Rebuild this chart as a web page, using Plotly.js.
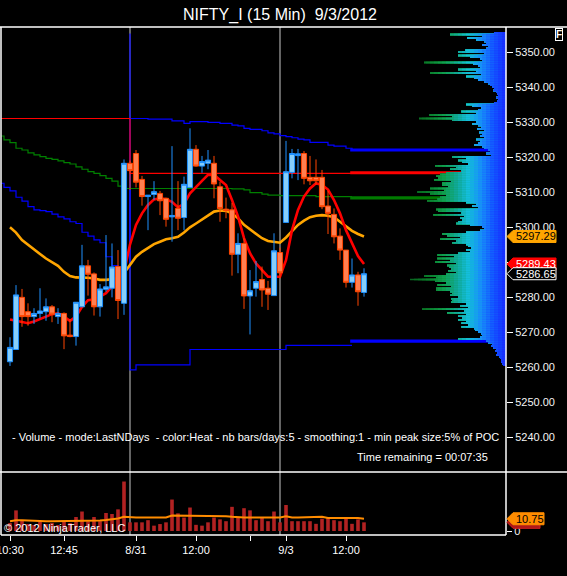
<!DOCTYPE html>
<html><head><meta charset="utf-8">
<script src="https://cdn.plot.ly/plotly-3.0.1.min.js"></script>
<style>html,body{margin:0;padding:0;background:#000;}#chart{width:567px;height:576px;}</style>
</head><body><div id="chart"></div>
<script>
// ---------- DATA ----------
const openP  = [5261.5,5265.0,5279.9,5275.8,5274.4,5275.3,5275.8,5277.2,5274.4,5275.3,5269.1,5268.7,5277.2,5288.9,5286.6,5277.2,5282.2,5282.5,5288.7,5278.2,
                5318.2,5321.0,5313.6,5308.7,5309.3,5309.6,5308.2,5302.9,5305.3,5302.7,5311.3,5322.2,5317.4,5318.2,5318.2,5311.5,5305.1,5304.9,5292.2,5295.3,
                5280.3,5282.5,5285.0,5282.5,5280.4,5292.7,5301.3,5315.6,5320.4,5321.0,5314.2,5314.2,5314.2,5306.0,5303.6,5297.4,5293.4,5284.2,5286.3,5281.3];
const highP  = [5268.5,5283.4,5282.3,5278.2,5276.8,5282.5,5279.6,5277.7,5276.8,5275.6,5273.7,5278.5,5294.9,5290.6,5287.0,5283.7,5297.7,5295.3,5293.4,5319.3,
                5319.0,5322.0,5314.6,5309.1,5313.1,5310.3,5308.4,5323.1,5313.1,5314.4,5328.2,5323.4,5320.3,5322.0,5320.3,5312.9,5308.4,5306.9,5298.2,5296.8,
                5287.7,5290.3,5288.7,5284.6,5298.2,5294.1,5324.6,5322.3,5322.3,5321.7,5320.3,5319.3,5316.3,5310.3,5305.3,5299.6,5293.4,5291.0,5287.2,5288.2];
const lowP   = [5260.3,5265.0,5271.5,5271.8,5272.3,5273.9,5273.2,5272.8,5272.3,5265.1,5268.5,5266.1,5277.2,5280.4,5274.7,5274.4,5281.5,5279.9,5273.7,5274.9,
                5310.6,5311.3,5306.1,5299.1,5307.7,5303.4,5300.1,5295.8,5299.1,5299.1,5311.3,5317.2,5315.5,5316.5,5308.2,5301.5,5302.5,5286.1,5286.8,5276.6,
                5269.3,5280.1,5277.2,5276.3,5280.4,5285.3,5301.3,5313.9,5313.4,5312.2,5312.0,5312.0,5305.1,5298.0,5295.3,5290.6,5282.7,5282.7,5277.5,5280.1];
const closeP = [5265.6,5280.6,5274.4,5274.4,5275.3,5276.0,5277.2,5275.1,5275.3,5268.9,5268.7,5278.5,5288.9,5286.5,5277.2,5282.3,5282.9,5288.6,5279.0,5318.2,
                5316.1,5312.8,5308.7,5309.1,5310.1,5307.5,5302.2,5303.3,5302.5,5312.2,5322.2,5317.4,5318.7,5319.1,5312.3,5305.3,5304.7,5292.2,5295.3,5280.3,
                5281.8,5284.4,5282.0,5280.8,5293.2,5286.9,5315.8,5321.0,5320.9,5313.9,5313.2,5313.2,5305.8,5303.9,5297.2,5293.4,5284.2,5286.3,5281.5,5286.65];
const fastMA = [5273.6,5273.3,5273.0,5272.5,5273.0,5273.6,5274.4,5275.1,5275.3,5274.4,5273.2,5274.4,5277.2,5279.1,5279.3,5280.1,5281.1,5283.0,5284.9,5287.0,
                5295.0,5300.6,5303.9,5306.3,5307.9,5308.2,5307.9,5307.2,5305.6,5306.6,5309.6,5311.5,5313.2,5314.9,5314.9,5313.4,5312.0,5307.7,5303.0,5296.8,
                5292.5,5289.6,5287.7,5285.8,5285.8,5285.8,5290.5,5299.1,5304.9,5308.7,5311.0,5312.5,5312.0,5310.7,5307.7,5303.9,5299.1,5295.3,5291.7,5289.43];
const slowMA = [5299.9,5298.4,5296.3,5294.9,5293.6,5292.3,5291.0,5289.9,5288.9,5287.2,5286.0,5285.6,5285.6,5285.5,5285.3,5284.9,5284.9,5285.0,5285.3,5286.8,
                5289.1,5291.5,5292.9,5294.1,5295.1,5295.8,5296.5,5296.8,5297.2,5298.4,5299.9,5301.0,5302.2,5303.4,5304.4,5304.7,5304.6,5303.9,5302.5,5300.6,
                5299.3,5298.2,5296.8,5296.0,5295.8,5295.5,5297.0,5298.7,5300.6,5301.8,5302.8,5303.2,5303.4,5303.2,5302.8,5301.5,5300.1,5298.9,5298.0,5297.29];
const volume = [7.0,18.1,8.8,6.1,5.3,7.9,6.1,7.0,5.3,8.8,7.0,12.3,17.1,8.6,12.3,8.6,15.8,14.9,19.0,43.4,
                7.6,7.6,7.6,9.5,4.7,6.1,7.6,27.6,15.5,11.8,20.6,5.4,4.7,7.6,11.8,10.2,8.6,21.2,12.4,20.0,
                18.1,9.5,11.8,8.6,17.1,7.6,22.8,8.6,8.6,8.6,8.6,6.3,10.8,11.8,9.5,8.6,10.8,6.3,10.2,7.6];
const volumeMA = [8.6,9.5,9.5,9.2,8.6,8.6,8.6,8.6,8.6,8.6,8.6,8.8,8.8,8.8,8.8,9.2,9.6,10.2,11.0,12.4,
                  11.8,11.8,11.8,11.8,11.8,11.8,11.8,13.6,13.6,13.6,13.6,13.6,13.6,13.6,13.6,13.6,13.0,12.4,11.8,11.8,
                  11.8,11.8,11.8,11.8,11.8,11.8,13.0,11.8,11.8,11.8,11.8,11.8,12.4,11.5,11.5,11.5,11.5,11.5,11.5,10.75];

// step indicator lines, first value belongs to bar -2
const stepFirstBar = -2;
const upperBand = [5312.5,5311.3,5310.3,5308.5,5307.4,5305.8,5304.9,5304.7,5304.4,5303.7,5302.9,5302.3,5301.5,5301.0,5298.5,5297.4,5296.3,5295.5,5291.5,5289.0,5288.5,5288.0,
                   5331.0,5331.0,5331.0,5330.8,5330.8,5330.8,5330.8,5330.3,5330.3,5329.6,5330.1,5330.1,5330.1,5329.9,5329.9,5329.6,5329.6,5329.1,5328.9,5328.2,
                   5327.9,5327.9,5327.5,5326.9,5326.6,5326.1,5325.8,5325.5,5325.1,5324.9,5324.2,5324.2,5324.2,5323.4,5323.1,5323.1,5322.5,5322.0];
const midLine   = [5326.0,5324.9,5324.1,5322.5,5322.0,5321.2,5320.6,5320.1,5319.6,5319.3,5318.9,5318.4,5318.0,5317.2,5316.5,5315.8,5315.3,5314.7,5313.9,5313.1,5311.7,5311.0,
                   5311.0,5311.0,5311.0,5311.0,5311.0,5311.0,5311.0,5311.0,5311.0,5311.0,5311.0,5311.0,5311.0,5311.0,5311.0,5311.0,5311.0,5310.9,5310.9,5310.6,
                   5309.8,5309.8,5309.4,5309.1,5309.1,5308.95,5308.95,5308.95,5308.95,5308.95,5308.95,5308.7,5308.7,5308.7,5308.7,5308.7,5308.7,5308.7];
const refLine   = [5331.0,5331.0,5331.0,5331.0,5331.0,5331.0,5331.0,5331.0,5331.0,5331.0,5331.0,5331.0,5331.0,5331.0,5331.0,5331.0,5331.0,5331.0,5331.0,5331.0,5331.0,5331.0,
                   5315.3,5315.3,5315.3,5315.3,5315.3,5315.3,5315.3,5315.3,5315.3,5315.3,5315.3,5315.3,5315.3,5315.3,5315.3,5315.3,5315.3,5315.3,5315.3,5315.3,
                   5315.3,5315.3,5315.3,5315.3,5315.3,5315.3,5315.3,5315.3,5315.3,5315.3,5315.3,5315.3,5315.3,5315.3,5315.3,5315.3,5315.3,5315.3];
const lowerBand = [null,null,null,null,null,null,null,null,null,null,null,null,null,null,null,null,null,null,null,null,null,null,
                   5355.3,5259.2,5260.6,5260.6,5260.6,5260.6,5260.6,5260.6,5260.6,5260.6,5260.6,5265.0,5265.0,5265.0,5265.0,5265.0,5265.0,5265.0,5265.0,
                   5265.0,5265.0,5265.0,5265.0,5265.0,5265.0,5265.0,5265.0,5266.2,5266.2,5266.2,5266.2,5266.2,5266.2,5266.2,5266.2,5266.2,5266.2,5266.2];
// projected levels (thick) starting near bar 56.7
const levelStartBar = 56.7;
const levelValues = [5322.0, 5315.5, 5308.3, 5267.4];
const levelColors = ['#0000ff', '#ff0000', '#007a00', '#0000ff'];

// volume profile (length in px from right edge), rows from top price downward
const profileTop = 5355.5, profileStep = 0.5;
const profileLen = [12,56,24,39,30,22,20,24,18,20, 41,48,22,48,36,26,24,82,33,28,
                    26,48,30,76,25,40,32,28,22,18, 16,14,12,13,10,9,8,10,8,9,
                    12,40,34,25,28,45,30,77,54,87, 54,30,34,28,25,29,22,27,24,26,
                    22,30,26,28,32,24,22,18,16,20, 15,54,40,48,44,38,71,50,56,45,
                    60,66,70,68,72,55,64,64,58,76, 62,89,76,60,66,69,79,40,30,34,
                    28,70,68,45,73,42,46,44,48,50, 36,24,22,26,40,64,59,46,66,50,
                    54,40,38,35,40,36,48,69,52,69, 56,71,50,59,57,55,58,50,60,82,
                    70,96,71,60,69,55,70,70,56,54, 56,48,55,54,55,40,46,38,84,42,
                    59,40,48,44,48,40,45,38,45,32, 31,28,25,24,26,48,20,18,14,15,
                    13,10,11,9,10,7,6,5,5,4, 3];

const sessionStartBars = [20, 45];
const tickBars = [0, 9, 21, 31, 40, 46, 56];
const tickLabels = ['10:30', '12:45', '8/31', '12:00', '', '9/3', '12:00'];
const priceTicks = [5240, 5250, 5260, 5270, 5280, 5290, 5300, 5310, 5320, 5330, 5340, 5350];

// ---------- GEOMETRY ----------
const FONT = 'Liberation Sans, Arial, sans-serif';
const ML = 1, MR = 61, MT = 27, MB = 41;
const plotW = 567 - ML - MR, plotH = 576 - MT - MB;
const pxPerPt = 3.5;
const yMainRange = [5230, 5350 + (52 - 27) / pxPerPt];
const mainDom = [(535 - 472) / plotH, 1];
const volDom = [0, (535 - 473) / plotH];
const volPxPerUnit = 1.14;
const volRange = [-(535 - 531) / volPxPerUnit, (531 - 473) / volPxPerUnit];
const xRange = [-1.5, (506 - 10) / 6];
const px2paperX = p => (p - ML) / plotW;

const idx = closeP.map((_, i) => i);
const stepX = upperBand.map((_, k) => stepFirstBar + k);

const traces = [];
// step lines
traces.push({type:'scatter', mode:'lines', x: stepX, y: upperBand, line:{color:'#0000ff', width:1.2, shape:'hv'}, hoverinfo:'skip'});
traces.push({type:'scatter', mode:'lines', x: stepX, y: lowerBand, line:{color:'#0000ff', width:1.2, shape:'vh'}, hoverinfo:'skip'});
traces.push({type:'scatter', mode:'lines', x: stepX, y: midLine, line:{color:'#008000', width:1.2, shape:'hv'}, hoverinfo:'skip'});
traces.push({type:'scatter', mode:'lines', x: stepX, y: refLine, line:{color:'#ff0000', width:1.2, shape:'hv'}, hoverinfo:'skip'});
levelValues.forEach((v, k) => traces.push({type:'scatter', mode:'lines', x:[levelStartBar, xRange[1]], y:[v, v], line:{color: levelColors[k], width:3.2}, hoverinfo:'skip'}));
// moving averages
traces.push({type:'scatter', mode:'lines', x: idx, y: slowMA, line:{color:'#ffa500', width:2.6}, hoverinfo:'skip'});
traces.push({type:'scatter', mode:'lines', x: idx, y: fastMA, line:{color:'#ff0000', width:2.6}, hoverinfo:'skip'});
// candles on overlay axis (above lines)
traces.push({type:'candlestick', x: idx, open: openP, high: highP, low: lowP, close: closeP, xaxis:'x3', yaxis:'y',
  increasing:{line:{color:'#1e90ff', width:1}, fillcolor:'#87cefa'},
  decreasing:{line:{color:'#ff4500', width:1}, fillcolor:'#ff7f50'},
  whiskerwidth:0, hoverinfo:'skip'});
// volume profile: heat gradient by distance from the right edge
const profPrices = profileLen.map((_, k) => profileTop - k * profileStep);
const heatStops = [[0,[24,40,255]],[14,[20,84,255]],[26,[24,140,250]],[38,[20,190,220]],[50,[16,168,150]],[62,[16,160,80]],[80,[10,122,40]],[100,[8,95,28]]];
function heatColor(d) {
  for (let k = 1; k < heatStops.length; k++) {
    if (d <= heatStops[k][0]) {
      const [d0, c0] = heatStops[k - 1], [d1, c1] = heatStops[k];
      const t = (d - d0) / (d1 - d0);
      return 'rgb(' + c0.map((c, j) => Math.round(c + (c1[j] - c) * t)).join(',') + ')';
    }
  }
  return 'rgb(' + heatStops[heatStops.length - 1][1].join(',') + ')';
}
const bandStep = 4;
const maxLen = Math.max(...profileLen);
for (let cap = Math.ceil(maxLen / bandStep) * bandStep; cap > 0; cap -= bandStep) {
  traces.push({type:'bar', orientation:'h', xaxis:'x2', yaxis:'y', y: profPrices,
    x: profileLen.map(v => Math.min(v, cap)), width: 0.4,
    marker:{color: heatColor(cap - bandStep / 2), line:{width:0}}, hoverinfo:'skip'});
}
// volume panel
traces.push({type:'bar', x: idx, y: volume, xaxis:'x', yaxis:'y2', width:0.6, marker:{color:'#b22222', line:{width:0}}, hoverinfo:'skip'});
traces.push({type:'scatter', mode:'lines', x: idx, y: volumeMA, xaxis:'x', yaxis:'y2', line:{color:'#ff8c00', width:2}, hoverinfo:'skip'});

// ---------- SHAPES / ANNOTATIONS ----------
const shapes = [];
sessionStartBars.forEach(b => shapes.push({type:'line', xref:'x', yref:'paper', x0:b, x1:b, y0:0, y1:1, line:{color:'#c8c8c8', width:1}, layer:'below'}));
const W = '#ffffff';
shapes.push({type:'line', xref:'paper', yref:'paper', x0:px2paperX(0), x1:px2paperX(567), y0:1, y1:1, line:{color:W, width:1.5}});
shapes.push({type:'line', xref:'paper', yref:'paper', x0:px2paperX(0), x1:px2paperX(567), y0:mainDom[0], y1:mainDom[0], line:{color:W, width:1.5}});
shapes.push({type:'line', xref:'paper', yref:'paper', x0:0, x1:1, y0:0, y1:0, line:{color:W, width:1.5}});
shapes.push({type:'line', xref:'paper', yref:'paper', x0:0, x1:0, y0:0, y1:1, line:{color:W, width:1.5}});
shapes.push({type:'line', xref:'paper', yref:'paper', x0:1, x1:1, y0:0, y1:1, line:{color:W, width:1.5}});

const annotations = [];
function priceTag(v, yref, unitsPerPx, fill, border, textColor, label, boxRightPx) {
  const tip = px2paperX(507), bl = px2paperX(513), br = px2paperX(boxRightPx);
  const h = 6 * unitsPerPx;
  shapes.push({type:'path', xref:'paper', yref: yref, layer:'above',
    path:`M ${tip},${v} L ${bl},${v + h} L ${br},${v + h} L ${br},${v - h} L ${bl},${v - h} Z`,
    fillcolor: fill, line:{color: border, width:1}});
  if (label) annotations.push({xref:'paper', yref: yref, x: px2paperX((513 + boxRightPx) / 2 + 1), y: v, text: label, showarrow:false,
    xanchor:'center', yanchor:'middle', font:{family:FONT, size:11, color:textColor}});
}
priceTag(slowMA[slowMA.length - 1], 'y', 1 / pxPerPt, '#ffa500', '#ffa500', '#000', slowMA[slowMA.length - 1].toFixed(2), 556);
priceTag(fastMA[fastMA.length - 1], 'y', 1 / pxPerPt, '#ff0000', '#ff0000', '#fff', fastMA[fastMA.length - 1].toFixed(2), 556);
priceTag(closeP[closeP.length - 1], 'y', 1 / pxPerPt, '#000', '#ffffff', '#fff', closeP[closeP.length - 1].toFixed(2), 556);
priceTag(volume[volume.length - 1], 'y2', 1 / volPxPerUnit, '#b01818', '#d02020', '#fff', '', 540);
priceTag(volumeMA[volumeMA.length - 1], 'y2', 1 / volPxPerUnit, '#ff8c00', '#ff8c00', '#000', volumeMA[volumeMA.length - 1].toFixed(2), 544);

annotations.push({xref:'paper', yref:'paper', x: px2paperX(558.5), y: 1 - (35 - MT) / plotH, text:'<b>F</b>', showarrow:false,
  xanchor:'center', yanchor:'middle', font:{family:FONT, size:10, color:'#fff'}, bordercolor:'#fff', borderwidth:1, borderpad:0, bgcolor:'#000'});
annotations.push({xref:'paper', yref:'paper', x: px2paperX(501), y: (535 - 437) / plotH,
  text:' - Volume - mode:LastNDays \u00a0- color:Heat - nb bars/days:5 - smoothing:1 - min peak size:5% of POC', showarrow:false,
  xanchor:'right', yanchor:'middle', font:{family:FONT, size:11, color:'#fff'}});
annotations.push({xref:'paper', yref:'paper', x: px2paperX(490), y: (535 - 457) / plotH,
  text:'Time remaining = 00:07:35', showarrow:false, xanchor:'right', yanchor:'middle', font:{family:FONT, size:11, color:'#fff'}});
annotations.push({xref:'paper', yref:'paper', x: px2paperX(2), y: (535 - 528) / plotH,
  text:'\u00a9 2012 NinjaTrader, LLC', showarrow:false, xanchor:'left', yanchor:'middle', font:{family:FONT, size:11, color:'#fff'}});

const layout = {
  width:567, height:576, paper_bgcolor:'#000', plot_bgcolor:'#000',
  margin:{l:ML, r:MR, t:MT, b:MB, pad:0}, showlegend:false, hovermode:false,
  barmode:'overlay', boxgap:0.15, boxgroupgap:0,
  title:{text:'NIFTY_I (15 Min) \u00a09/3/2012', font:{family:FONT, size:16, color:'#fff'}, xref:'container', yref:'container',
         x:280/567, xanchor:'center', y:1 - 14/576, yanchor:'middle'},
  xaxis:{range:xRange, anchor:'y2', showgrid:false, zeroline:false, showline:false, ticks:'outside', ticklen:5, tickcolor:'#fff',
         tickvals:tickBars, ticktext:tickLabels, tickfont:{family:FONT, size:11, color:'#fff'}, ticklabeloverflow:'allow',
         rangeslider:{visible:false}, fixedrange:true},
  xaxis2:{range:[plotW, 0], overlaying:'x', anchor:'y', visible:false, showgrid:false, zeroline:false, fixedrange:true},
  xaxis3:{range:xRange, overlaying:'x', anchor:'y', visible:false, showgrid:false, zeroline:false, rangeslider:{visible:false}, fixedrange:true},
  yaxis:{domain:mainDom, range:yMainRange, side:'right', anchor:'x', showgrid:false, zeroline:false, showline:false,
         ticks:'outside', ticklen:6, tickcolor:'#fff', tickvals:priceTicks, tickformat:'.2f',
         tickfont:{family:FONT, size:11, color:'#f4f4f4'}, fixedrange:true},
  yaxis2:{domain:volDom, range:volRange, side:'right', anchor:'x', showgrid:false, zeroline:false, showline:false,
          ticks:'outside', ticklen:5, tickcolor:'#fff', tickvals:[0], ticktext:['0'],
          tickfont:{family:FONT, size:11, color:'#f4f4f4'}, fixedrange:true},
  shapes: shapes, annotations: annotations
};
Plotly.newPlot('chart', traces, layout, {staticPlot:true, displayModeBar:false});
</script></body></html>
